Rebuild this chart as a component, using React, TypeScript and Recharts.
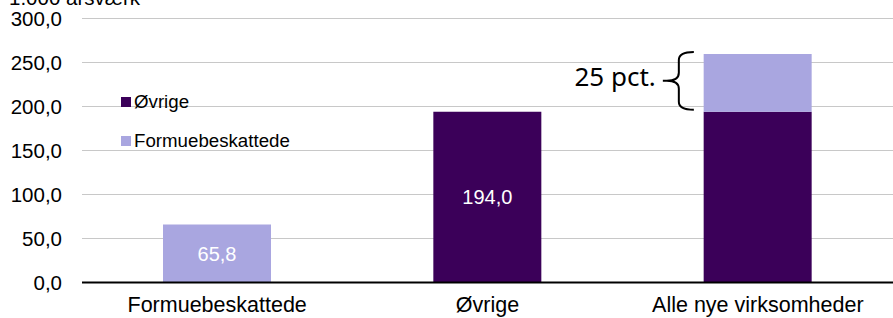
import React from "react";
import {
    BarChart, Bar, XAxis, YAxis, CartesianGrid, LabelList, ReferenceArea,
} from "recharts";

const categories = ["Formuebeskattede", "Øvrige", "Alle nye virksomheder"];
const formueValues = [65.8, 0, 65.8];
const ovrigeValues = [0, 194.0, 194.0];
const formueLabels = ["65,8", "", ""];
const ovrigeLabels = ["", "194,0", ""];
const yTicks = [0, 50, 100, 150, 200, 250, 300];
const unitLabel = "1.000 årsværk";
const shareLabel = "25 pct.";

const COLORS = {
    ovrige: "#3b0059",
    formue: "#a9a6e0",
    grid:   "#c8c8c8",
};

const FONT = "'Liberation Sans', Arial, sans-serif";

const legendItems = [
    { name: "Øvrige",           color: COLORS.ovrige },
    { name: "Formuebeskattede", color: COLORS.formue },
];

const data = categories.map((c, i) => ({
    name:     c,
    ovrige:   ovrigeValues[i],
    formue:   formueValues[i],
    ovrigeLb: ovrigeLabels[i],
    formueLb: formueLabels[i],
}));

const fmt = (v: number) => v.toFixed(1).replace(".", ",");

function Brace(props: any) {
    const { x, y, width, height } = props;
    const bl = x + width / 2 - 54;
    const top = y - 2;
    const bot = y + height - 2;
    const mid = (top + bot) / 2;
    const vx = bl - 25;
    const d = [
        `M ${bl - 10} ${top}`,
        `Q ${vx} ${top} ${vx} ${top + 8}`,
        `L ${vx} ${mid - 8}`,
        `Q ${vx} ${mid} ${bl - 37} ${mid}`,
        `L ${bl - 41} ${mid}`,
        `M ${bl - 37} ${mid}`,
        `Q ${vx} ${mid} ${vx} ${mid + 8}`,
        `L ${vx} ${bot - 8}`,
        `Q ${vx} ${bot} ${bl - 10} ${bot}`,
    ].join(" ");
    return (
        <g>
            <path d={d} fill="none" stroke="#000" strokeWidth={2} />
            <text x={bl - 48} y={mid + 5} textAnchor="end" fill="#000"
                  style={{ fontFamily: "'Noto Sans', sans-serif", fontSize: 26 }}>
                {shareLabel}
            </text>
        </g>
    );
}

export default function App() {
    return (
        <div style={{ position: "absolute", left: 0, top: 0, width: 893, height: 318, background: "#fff" }}>
            <BarChart width={893} height={318} data={data}
                      margin={{ top: 18.5, right: 0, bottom: 0, left: 0 }}>
                <CartesianGrid vertical={false} stroke={COLORS.grid} />
                <XAxis dataKey="name" height={35.5} tickSize={0} tickMargin={14}
                       axisLine={{ stroke: "#000", strokeWidth: 2 }}
                       tick={{ fill: "#000", fontSize: 21.5, fontFamily: FONT }} />
                <YAxis domain={[0, 300]} ticks={yTicks} width={82} tickSize={0} tickMargin={20}
                       axisLine={false} tickFormatter={fmt}
                       tick={{ fill: "#000", fontSize: 20.5, fontFamily: FONT }} />
                <Bar dataKey="ovrige" name="Øvrige" stackId="a" fill={COLORS.ovrige}
                     barSize={108} isAnimationActive={false}>
                    <LabelList dataKey="ovrigeLb" position="center" fill="#fff"
                               style={{ fontSize: 20, fontFamily: FONT }} />
                </Bar>
                <Bar dataKey="formue" name="Formuebeskattede" stackId="a" fill={COLORS.formue}
                     barSize={108} isAnimationActive={false}>
                    <LabelList dataKey="formueLb" position="center" fill="#fff"
                               style={{ fontSize: 20, fontFamily: FONT }} />
                </Bar>
                <ReferenceArea x1="Alle nye virksomheder" x2="Alle nye virksomheder"
                               y1={194} y2={259.8} shape={<Brace />} ifOverflow="visible" />
            </BarChart>
            <svg width={300} height={20} style={{ position: "absolute", left: 0, top: 0 }}>
                <text x={9} y={5} style={{ fontFamily: FONT, fontSize: 20.5 }} fill="#000">{unitLabel}</text>
            </svg>
            <div style={{ position: "absolute", left: 121, top: 82, fontFamily: FONT, fontSize: 18.7, color: "#000" }}>
                {legendItems.map(it => (
                    <div key={it.name} style={{ display: "flex", alignItems: "center", height: 39 }}>
                        <span style={{ width: 10, height: 10, background: it.color, marginRight: 3 }} />
                        <span>{it.name}</span>
                    </div>
                ))}
            </div>
        </div>
    );
}
